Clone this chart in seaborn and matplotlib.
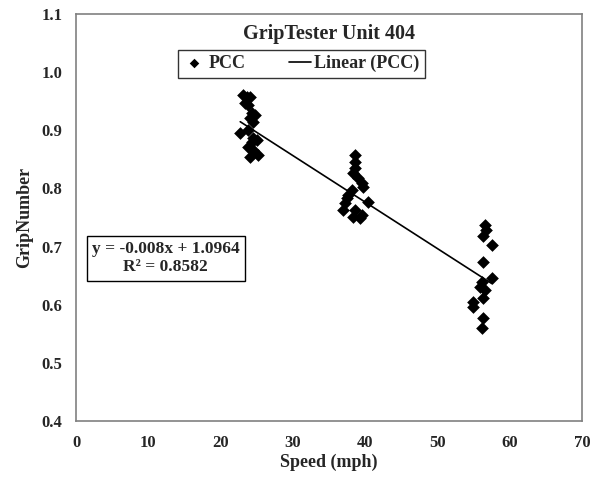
import numpy as np
import pandas as pd
import seaborn as sns
from matplotlib import pyplot as plt

# PCC readings
speed = [
    23.1, 23.7, 24.1, 23.4, 23.8, 24.3, 24.8, 24.1, 24.5, 22.7, 23.8, 24.5,
    24.3, 25.0, 23.8, 24.5, 24.1, 25.2,
    38.6, 38.6, 38.6, 38.3, 39.0, 39.6, 39.7, 38.2, 37.6, 37.5, 37.2, 40.3,
    36.9, 38.6, 38.3, 39.2, 39.6,
    56.6, 56.7, 56.3, 57.5, 56.3, 57.5, 56.2, 55.9, 56.6, 56.3, 54.9, 54.9,
    56.3, 56.2,
]
grip = [
    0.961, 0.957, 0.957, 0.947, 0.943, 0.930, 0.926, 0.921, 0.914, 0.895,
    0.900, 0.887, 0.880, 0.883, 0.871, 0.866, 0.854, 0.857,
    0.857, 0.846, 0.836, 0.826, 0.818, 0.810, 0.802, 0.797, 0.789, 0.784,
    0.775, 0.777, 0.763, 0.763, 0.751, 0.749, 0.754,
    0.737, 0.729, 0.718, 0.703, 0.673, 0.646, 0.639, 0.630, 0.625, 0.612,
    0.604, 0.596, 0.577, 0.560,
]

slope = -0.008
intercept = 1.0964
r2 = 0.8582

df = pd.DataFrame({"Speed": speed, "Grip": grip})

sns.set_theme(style="white")
plt.rcParams["font.family"] = ["Liberation Serif", "DejaVu Serif"]
plt.rcParams["font.weight"] = "bold"

fig = plt.figure(figsize=(6.04, 4.84), dpi=100)
ax = fig.add_axes([0.126, 0.130, 0.838, 0.841])

sns.scatterplot(x="Speed", y="Grip", data=df, ax=ax, marker="D", color="black",
                s=42, edgecolor="black", linewidth=0, label="PCC", zorder=3)

xfit = np.array([min(speed), max(speed)])
ax.plot(xfit, slope * xfit + intercept, color="black", linewidth=1.2,
        label="Linear (PCC)", zorder=2)

ax.set_xlim(0, 70)
ax.set_ylim(0.4, 1.1)
ax.set_xticks(range(0, 71, 10))
ax.set_yticks(np.arange(0.4, 1.11, 0.1))
ax.set_yticklabels([f"{v:.1f}" for v in np.arange(0.4, 1.11, 0.1)])
ax.tick_params(axis="both", which="both", direction="out", length=5, width=1,
               color="#808080", labelsize=12, pad=5)
for lab in ax.get_xticklabels() + ax.get_yticklabels():
    lab.set_fontweight("bold")
for sp in ax.spines.values():
    sp.set_color("#808080")
    sp.set_linewidth(1.2)

ax.set_xlabel("Speed (mph)", fontsize=13, fontweight="bold", labelpad=2)
ax.set_ylabel("GripNumber", fontsize=13, fontweight="bold", labelpad=6)

ax.text(0.5, 0.975, "GripTester Unit 404", transform=ax.transAxes, ha="center",
        va="top", fontsize=14.5, fontweight="bold")

leg = ax.legend(loc="upper center", bbox_to_anchor=(0.445, 0.935), ncol=2,
                frameon=True, fancybox=False, fontsize=13, handlelength=1.2,
                handletextpad=0.2, columnspacing=2.4, borderpad=0.3,
                markerscale=0.75)
leg.get_frame().set_edgecolor("black")
leg.get_frame().set_linewidth(1)
for t in leg.get_texts():
    t.set_fontweight("bold")

ax.text(0.177, 0.40, f"y = {slope}x + {intercept}\nR² = {r2}",
        transform=ax.transAxes, ha="center", va="center", fontsize=12.5,
        fontweight="bold", linespacing=1.2,
        bbox=dict(boxstyle="square,pad=0.3", facecolor="white",
                  edgecolor="black", linewidth=1))

fig.savefig("out.png", dpi=100)
